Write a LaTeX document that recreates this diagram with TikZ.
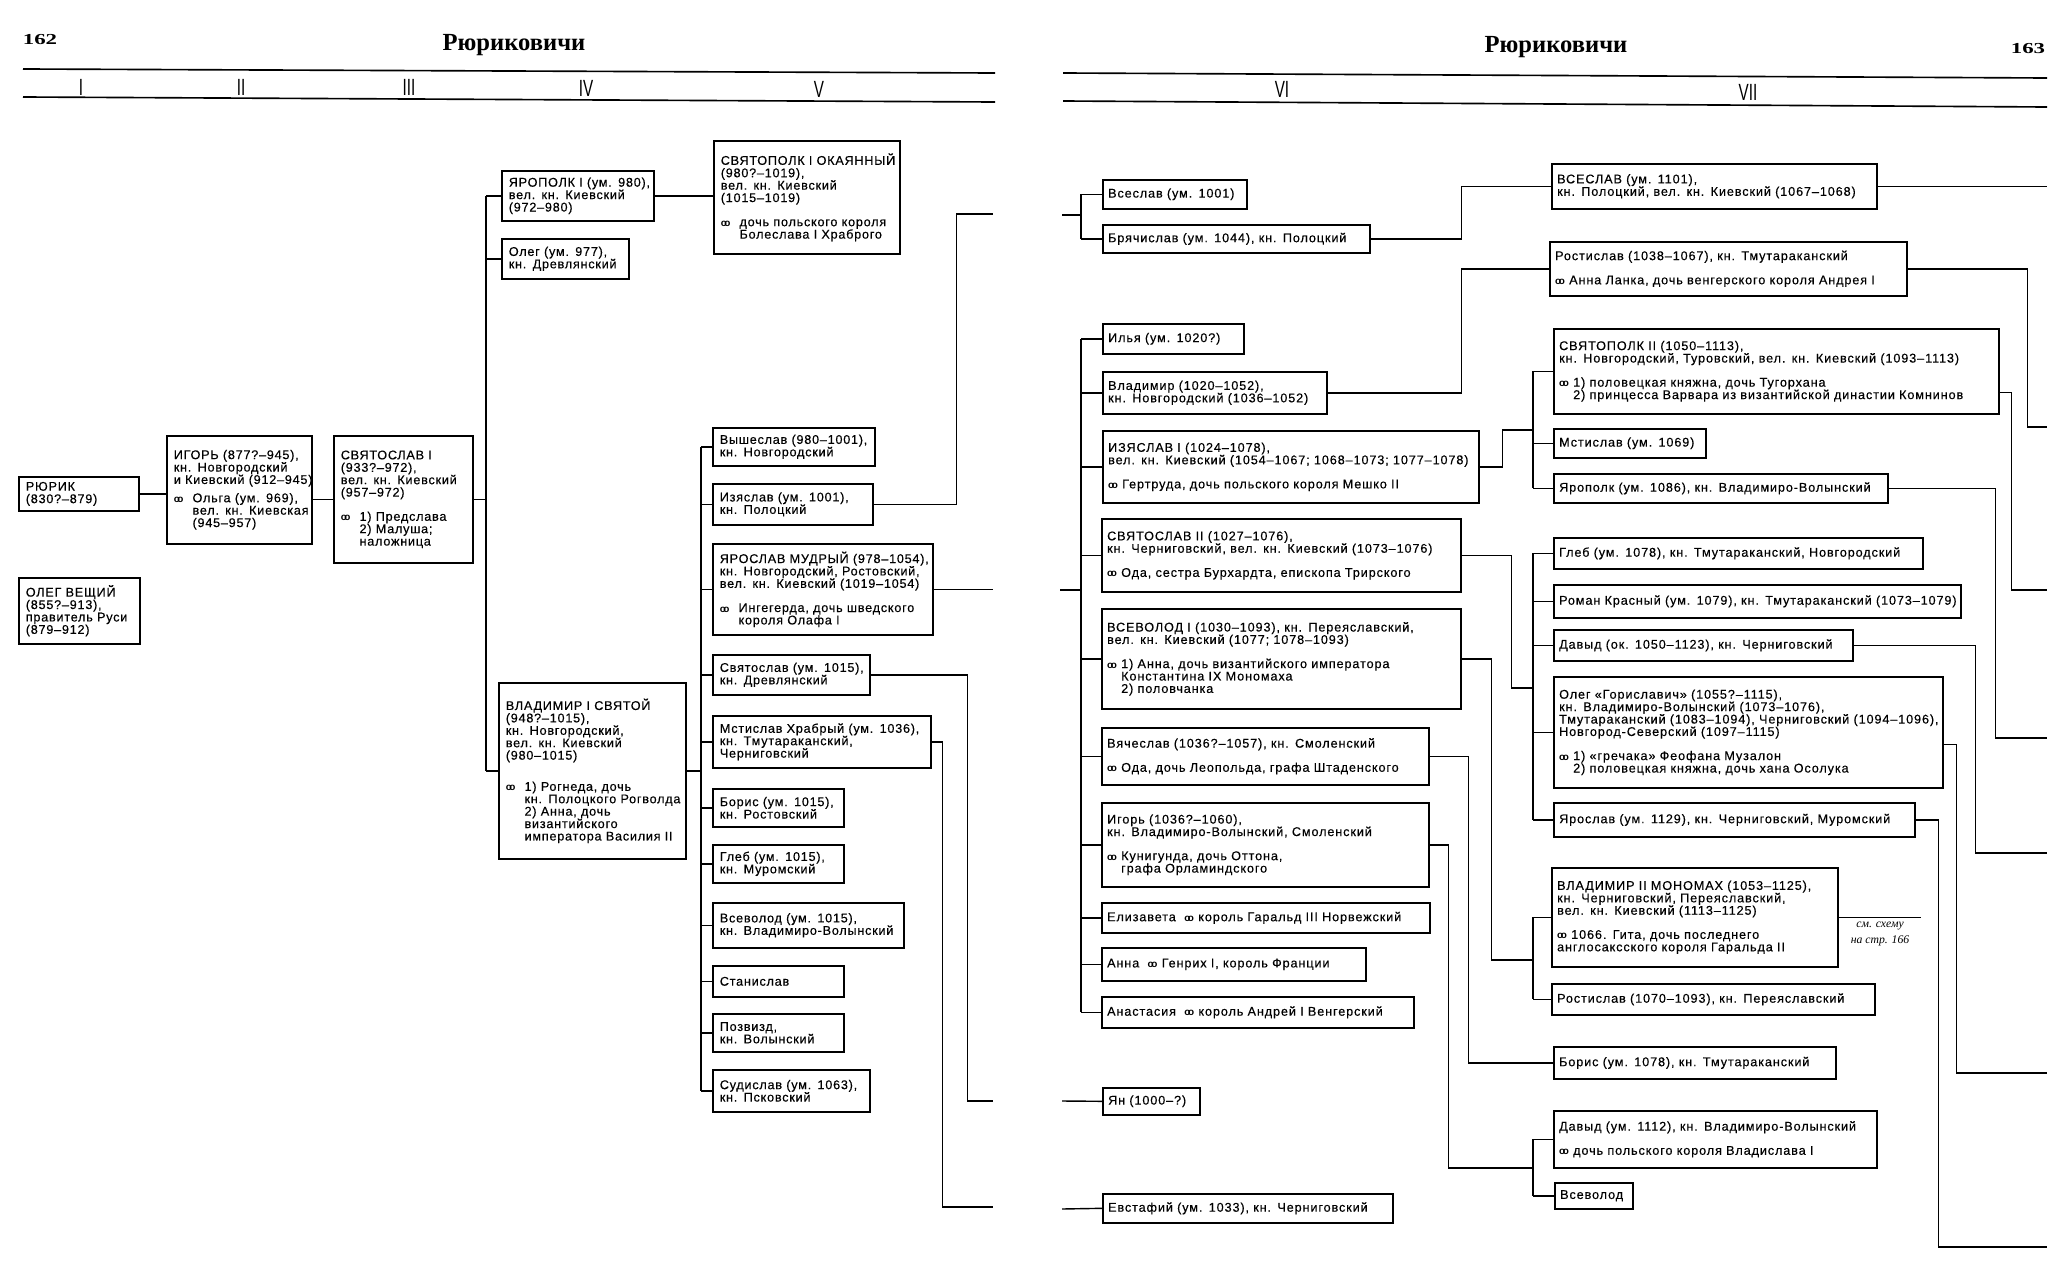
\documentclass[tikz,border=0pt]{standalone}
\usepackage{fontspec}
\setmainfont{Liberation Sans}
\newfontfamily\lpfont[LetterSpace=6,FakeBold=0.3]{Liberation Sans}
\newfontfamily\rpfont[LetterSpace=7,FakeBold=0.3]{Liberation Sans}
\newfontfamily\wedfont{Liberation Sans}
\newfontfamily\romfont[FakeStretch=0.65]{Liberation Sans}
\newfontfamily\rurfont{Liberation Serif}
\newfontfamily\numfont[FakeStretch=1.5]{Liberation Serif}
\newfontfamily\remfont{Liberation Serif}
\usetikzlibrary{calc}

\newlength{\wedw}
\newcommand{\wed}{\makebox[\wedw][l]{\wedfont\bfseries\fontsize{8.5}{8.5}\selectfont o\kern-0.25em o}}
\newcommand{\wind}{\hspace*{\wedw}}

\tikzset{
  kin/.style={draw, line width=1.4pt, anchor=north west, inner xsep=0pt, inner ysep=0pt, align=left},
  lbox/.style 2 args={kin, text width=#1*0.3mm, minimum height=#2*0.3mm,
    font=\lpfont\fontsize{10.8}{10.6}\selectfont,
    execute at begin node={\leftskip=2.1mm\rightskip=-40pt plus 1fil\setlength{\wedw}{16pt}}},
  rbox/.style 2 args={kin, text width=#1*0.3mm, minimum height=#2*0.3mm,
    font=\rpfont\fontsize{10.8}{10.6}\selectfont,
    execute at begin node={\leftskip=1.6mm\rightskip=-40pt plus 1fil\setlength{\wedw}{12pt}}},
  link/.style={line width=1.2pt},
  rule/.style={line width=1.4pt},
  roman/.style={font=\romfont\fontsize{20}{20}\selectfont},
  title/.style={font=\rurfont\bfseries\fontsize{21}{21}\selectfont},
  folio/.style={font=\numfont\bfseries\fontsize{13}{13}\selectfont},
}

\begin{document}
\begin{tikzpicture}[x=0.3mm,y=-0.3mm]
\fill[white] (0,0) rectangle (2052,1264);
\useasboundingbox (0,0) rectangle (2052,1264);

% page 162
\node[folio] (pgL) at (40,40) {162};
\node[title] (titleL) at (514,45) {Рюриковичи};
\draw[rule] (23,69) -- (995,73);
\draw[rule] (23,97) -- (995,102);
\node[roman] (genI) at (81,87) {I};
\node[roman] (genII) at (241,87) {II};
\node[roman] (genIII) at (409,87) {III};
\node[roman] (genIV) at (586,88) {IV};
\node[roman] (genV) at (819,89) {V};

% page 163
\node[title] (titleR) at (1556,47) {Рюриковичи};
\node[folio] (pgR) at (2028,49) {163};
\draw[rule] (1063,73) -- (2047,78);
\draw[rule] (1063,101) -- (2047,107);
\node[roman] (genVI) at (1282,89) {VI};
\node[roman] (genVII) at (1748,92) {VII};

% generations I-IV
\node[lbox={120}{34}] (rurik) at (18,476) {РЮРИК\\(830?–879)};
\node[lbox={121}{66}] (olegV) at (18,577) {ОЛЕГ ВЕЩИЙ\\(855?–913),\\правитель Руси\\(879–912)};
\node[lbox={145}{108}] (igor) at (166,435) {ИГОРЬ (877?–945),\\кн. Новгородский\\и Киевский (912–945)\\[5pt]\wed Ольга (ум. 969),\\\wind вел. кн. Киевская\\\wind (945–957)};
\node[lbox={139}{127}] (svyatoslav) at (333,435) {СВЯТОСЛАВ I\\(933?–972),\\вел. кн. Киевский\\(957–972)\\[10pt]\wed 1) Предслава\\\wind 2) Малуша;\\\wind наложница};
\node[lbox={152}{50}] (yaropolk) at (501,170) {ЯРОПОЛК I (ум. 980),\\вел. кн. Киевский\\(972–980)};
\node[lbox={127}{40}] (olegD) at (501,238) {Олег (ум. 977),\\кн. Древлянский};
\node[lbox={187}{176}] (vladimir) at (498,682) {ВЛАДИМИР I СВЯТОЙ\\(948?–1015),\\кн. Новгородский,\\вел. кн. Киевский\\(980–1015)\\[16pt]\wed 1) Рогнеда, дочь\\\wind кн. Полоцкого Рогволда\\\wind 2) Анна, дочь\\\wind византийского\\\wind императора Василия II};

% generation V
\node[lbox={186}{113}] (svyatopolk) at (713,140) {СВЯТОПОЛК I ОКАЯННЫЙ\\(980?–1019),\\вел. кн. Киевский\\(1015–1019)\\[10pt]\wed дочь польского короля\\\wind Болеслава I Храброго};
\node[lbox={162}{38}] (vysheslav) at (712,427) {Вышеслав (980–1001),\\кн. Новгородский};
\node[lbox={160}{41}] (izyaslav) at (712,483) {Изяслав (ум. 1001),\\кн. Полоцкий};
\node[lbox={220}{91}] (yaroslav) at (712,543) {ЯРОСЛАВ МУДРЫЙ (978–1054),\\кн. Новгородский, Ростовский,\\вел. кн. Киевский (1019–1054)\\[10pt]\wed Ингегерда, дочь шведского\\\wind короля Олафа I};
\node[lbox={157}{40}] (svyatoslavD) at (712,654) {Святослав (ум. 1015),\\кн. Древлянский};
\node[lbox={218}{52}] (mstislav) at (712,715) {Мстислав Храбрый (ум. 1036),\\кн. Тмутараканский,\\Черниговский};
\node[lbox={131}{38}] (boris) at (712,788) {Борис (ум. 1015),\\кн. Ростовский};
\node[lbox={131}{38}] (gleb) at (712,844) {Глеб (ум. 1015),\\кн. Муромский};
\node[lbox={191}{45}] (vsevolodV) at (712,902) {Всеволод (ум. 1015),\\кн. Владимиро-Волынский};
\node[lbox={131}{31}] (stanislav) at (712,965) {Станислав};
\node[lbox={131}{38}] (pozvizd) at (712,1013) {Позвизд,\\кн. Волынский};
\node[lbox={157}{42}] (sudislav) at (712,1069) {Судислав (ум. 1063),\\кн. Псковский};

% generation VI
\node[rbox={144}{29}] (vseslavA) at (1102,179) {Всеслав (ум. 1001)};
\node[rbox={267}{28}] (bryachislav) at (1102,224) {Брячислав (ум. 1044), кн. Полоцкий};
\node[rbox={141}{30}] (ilya) at (1102,323) {Илья (ум. 1020?)};
\node[rbox={224}{42}] (vladimirN) at (1102,371) {Владимир (1020–1052),\\кн. Новгородский (1036–1052)};
\node[rbox={376}{72}] (izyaslavI) at (1102,430) {ИЗЯСЛАВ I (1024–1078),\\вел. кн. Киевский (1054–1067; 1068–1073; 1077–1078)\\[10pt]\wed Гертруда, дочь польского короля Мешко II};
\node[rbox={359}{73}] (svyatoslavII) at (1101,518) {СВЯТОСЛАВ II (1027–1076),\\кн. Черниговский, вел. кн. Киевский (1073–1076)\\[10pt]\wed Ода, сестра Бурхардта, епископа Трирского};
\node[rbox={359}{100}] (vsevolodI) at (1101,608) {ВСЕВОЛОД I (1030–1093), кн. Переяславский,\\вел. кн. Киевский (1077; 1078–1093)\\[10pt]\wed 1) Анна, дочь византийского императора\\\wind Константина IX Мономаха\\\wind 2) половчанка};
\node[rbox={327}{57}] (vyacheslav) at (1101,727) {Вячеслав (1036?–1057), кн. Смоленский\\[10pt]\wed Ода, дочь Леопольда, графа Штаденского};
\node[rbox={327}{84}] (igorV) at (1101,802) {Игорь (1036?–1060),\\кн. Владимиро-Волынский, Смоленский\\[10pt]\wed Кунигунда, дочь Оттона,\\\wind графа Орламиндского};
\node[rbox={328}{30}] (elizaveta) at (1101,902) {Елизавета \ \wed король Гаральд III Норвежский};
\node[rbox={264}{33}] (anna) at (1101,947) {Анна \ \wed Генрих I, король Франции};
\node[rbox={312}{31}] (anastasia) at (1101,996) {Анастасия \ \wed король Андрей I Венгерский};
\node[rbox={97}{27}] (yan) at (1102,1087) {Ян (1000–?)};
\node[rbox={290}{29}] (evstafiy) at (1102,1193) {Евстафий (ум. 1033), кн. Черниговский};

% generation VII
\node[rbox={325}{45}] (vseslavB) at (1551,163) {ВСЕСЛАВ (ум. 1101),\\кн. Полоцкий, вел. кн. Киевский (1067–1068)};
\node[rbox={357}{54}] (rostislavT) at (1549,241) {Ростислав (1038–1067), кн. Тмутараканский\\[10pt]\wed Анна Ланка, дочь венгерского короля Андрея I};
\node[rbox={445}{85}] (svyatopolkII) at (1553,328) {СВЯТОПОЛК II (1050–1113),\\кн. Новгородский, Туровский, вел. кн. Киевский (1093–1113)\\[10pt]\wed 1) половецкая княжна, дочь Тугорхана\\\wind 2) принцесса Варвара из византийской династии Комнинов};
\node[rbox={152}{29}] (mstislavK) at (1553,428) {Мстислав (ум. 1069)};
\node[rbox={334}{29}] (yaropolkV) at (1553,473) {Ярополк (ум. 1086), кн. Владимиро-Волынский};
\node[rbox={369}{31}] (glebT) at (1553,537) {Глеб (ум. 1078), кн. Тмутараканский, Новгородский};
\node[rbox={407}{33}] (roman) at (1553,584) {Роман Красный (ум. 1079), кн. Тмутараканский (1073–1079)};
\node[rbox={299}{31}] (davydC) at (1553,629) {Давыд (ок. 1050–1123), кн. Черниговский};
\node[rbox={389}{111}] (olegG) at (1553,676) {Олег «Гориславич» (1055?–1115),\\кн. Владимиро-Волынский (1073–1076),\\Тмутараканский (1083–1094), Черниговский (1094–1096),\\Новгород-Северский (1097–1115)\\[10pt]\wed 1) «гречака» Феофана Музалон\\\wind 2) половецкая княжна, дочь хана Осолука};
\node[rbox={361}{34}] (yaroslavM) at (1553,802) {Ярослав (ум. 1129), кн. Черниговский, Муромский};
\node[rbox={286}{99}] (monomakh) at (1551,867) {ВЛАДИМИР II МОНОМАХ (1053–1125),\\кн. Черниговский, Переяславский,\\вел. кн. Киевский (1113–1125)\\[10pt]\wed 1066. Гита, дочь последнего\\англосаксского короля Гаральда II};
\node[rbox={323}{31}] (rostislavP) at (1551,983) {Ростислав (1070–1093), кн. Переяславский};
\node[rbox={282}{32}] (boris78) at (1553,1046) {Борис (ум. 1078), кн. Тмутараканский};
\node[rbox={323}{57}] (davydV) at (1553,1110) {Давыд (ум. 1112), кн. Владимиро-Волынский\\[10pt]\wed дочь польского короля Владислава I};
\node[rbox={78}{26}] (vsevolodL) at (1554,1182) {Всеволод};
\node[font=\remfont\itshape\fontsize{10}{13}\selectfont, align=center] (seeRef) at (1880,934) {см. схему\\на стр. 166};

% free ends and bends
\coordinate (busIV) at (486,0);
\coordinate (busV) at (701,0);
\coordinate (busVI) at (1081,0);
\coordinate (busVII) at (1533,0);
\coordinate (izOut) at (993,214);
\coordinate (yarOut) at (993,589);
\coordinate (svOut) at (993,1101);
\coordinate (msOut) at (993,1207);
\coordinate (izIn) at (1062,215);
\coordinate (yarIn) at (1060,590);
\coordinate (yanIn) at (1062,1101);
\coordinate (evIn) at (1062,1209);
\coordinate (izIIn) at (1533,430);
\coordinate (svIIn) at (1533,688);
\coordinate (vsIIn) at (1533,960);
\coordinate (igIn) at (1533,1168);
\coordinate (vsOut) at (2047,186);
\coordinate (rosOut) at (2047,427);
\coordinate (spOut) at (2047,590);
\coordinate (ypOut) at (2047,738);
\coordinate (dvOut) at (2047,853);
\coordinate (ogOut) at (2047,1073);
\coordinate (ysOut) at (2047,1247);

% links I-IV
\draw[link] (rurik.east) -- (rurik.east -| igor.west);
\draw[link] (igor.east |- svyatoslav.west) -- (svyatoslav.west);
\draw[link] (svyatoslav.east) -- (busIV |- svyatoslav.east);
\draw[link] (busIV |- yaropolk.west) -- (busIV |- vladimir.west);
\draw[link] (busIV |- yaropolk.west) -- (yaropolk.west);
\draw[link] (busIV |- olegD.west) -- (olegD.west);
\draw[link] (busIV |- vladimir.west) -- (vladimir.west);
\draw[link] (yaropolk.east) -- (yaropolk.east -| svyatopolk.west);

% links V
\draw[link] (vladimir.east) -- (busV |- vladimir.east);
\draw[link] (busV |- vysheslav.west) -- (busV |- sudislav.west);
\draw[link] (busV |- vysheslav.west) -- (vysheslav.west);
\draw[link] (busV |- izyaslav.west) -- (izyaslav.west);
\draw[link] (busV |- yaroslav.west) -- (yaroslav.west);
\draw[link] (busV |- svyatoslavD.west) -- (svyatoslavD.west);
\draw[link] (busV |- mstislav.west) -- (mstislav.west);
\draw[link] (busV |- boris.west) -- (boris.west);
\draw[link] (busV |- gleb.west) -- (gleb.west);
\draw[link] (busV |- vsevolodV.west) -- (vsevolodV.west);
\draw[link] (busV |- stanislav.west) -- (stanislav.west);
\draw[link] (busV |- pozvizd.west) -- (pozvizd.west);
\draw[link] (busV |- sudislav.west) -- (sudislav.west);
\draw[link] (izyaslav.east) -- ++(83,0) |- (izOut);
\draw[link] (yaroslav.east) -- (yaroslav.east -| yarOut);
\draw[link] (svyatoslavD.east) -- ++(97,0) |- (svOut);
\draw[link] (mstislav.east) -- ++(11,0) |- (msOut);

% links VI
\draw[link] (izIn) -- (busVI |- izIn);
\draw[link] (busVI |- vseslavA.west) -- (busVI |- bryachislav.west);
\draw[link] (busVI |- vseslavA.west) -- (vseslavA.west);
\draw[link] (busVI |- bryachislav.west) -- (bryachislav.west);
\draw[link] (yarIn) -- (busVI |- yarIn);
\draw[link] (busVI |- ilya.west) -- (busVI |- anastasia.west);
\draw[link] (busVI |- ilya.west) -- (ilya.west);
\draw[link] (busVI |- vladimirN.west) -- (vladimirN.west);
\draw[link] (busVI |- izyaslavI.west) -- (izyaslavI.west);
\draw[link] (busVI |- svyatoslavII.west) -- (svyatoslavII.west);
\draw[link] (busVI |- vsevolodI.west) -- (vsevolodI.west);
\draw[link] (busVI |- vyacheslav.west) -- (vyacheslav.west);
\draw[link] (busVI |- igorV.west) -- (igorV.west);
\draw[link] (busVI |- elizaveta.west) -- (elizaveta.west);
\draw[link] (busVI |- anna.west) -- (anna.west);
\draw[link] (busVI |- anastasia.west) -- (anastasia.west);
\draw[link] (yanIn) -- (yan.west);
\draw[link] (evIn) -- (evstafiy.west);

% links VII
\draw[link] (bryachislav.east) -- ++(91,0) |- (vseslavB.west);
\draw[link] (vseslavB.east) -- (vseslavB.east -| vsOut);
\draw[link] (vladimirN.east) -- ++(134,0) |- (rostislavT.west);
\draw[link] (izyaslavI.east) -- ++(23,0) |- (izIIn);
\draw[link] (busVII |- svyatopolkII.west) -- (busVII |- yaropolkV.west);
\draw[link] (busVII |- svyatopolkII.west) -- (svyatopolkII.west);
\draw[link] (busVII |- mstislavK.west) -- (mstislavK.west);
\draw[link] (busVII |- yaropolkV.west) -- (yaropolkV.west);
\draw[link] (svyatoslavII.east) -- ++(50,0) |- (svIIn);
\draw[link] (busVII |- glebT.west) -- (busVII |- yaroslavM.west);
\draw[link] (busVII |- glebT.west) -- (glebT.west);
\draw[link] (busVII |- roman.west) -- (roman.west);
\draw[link] (busVII |- davydC.west) -- (davydC.west);
\draw[link] (busVII |- olegG.west) -- (olegG.west);
\draw[link] (busVII |- yaroslavM.west) -- (yaroslavM.west);
\draw[link] (vsevolodI.east) -- ++(30,0) |- (vsIIn);
\draw[link] (busVII |- monomakh.west) -- (busVII |- rostislavP.west);
\draw[link] (busVII |- monomakh.west) -- (monomakh.west);
\draw[link] (busVII |- rostislavP.west) -- (rostislavP.west);
\draw[link] (vyacheslav.east) -- ++(39,0) |- (boris78.west);
\draw[link] (igorV.east) -- ++(19,0) |- (igIn);
\draw[link] (busVII |- davydV.west) -- (busVII |- vsevolodL.west);
\draw[link] (busVII |- davydV.west) -- (davydV.west);
\draw[link] (busVII |- vsevolodL.west) -- (vsevolodL.west);

% lines running off the page
\draw[link] (rostislavT.east) -- ++(120,0) |- (rosOut);
\draw[link] ($(svyatopolkII.east)+(0,21)$) -- ++(12,0) |- (spOut);
\draw[link] (yaropolkV.east) -- ++(107,0) |- (ypOut);
\draw[link] (davydC.east) -- ++(122,0) |- (dvOut);
\draw[link] ($(olegG.east)+(0,12)$) -- ++(13,0) |- (ogOut);
\draw[link] (yaroslavM.east) -- ++(23,0) |- (ysOut);
\draw[link] (monomakh.east) -- ++(82,0);

\end{tikzpicture}
\end{document}
